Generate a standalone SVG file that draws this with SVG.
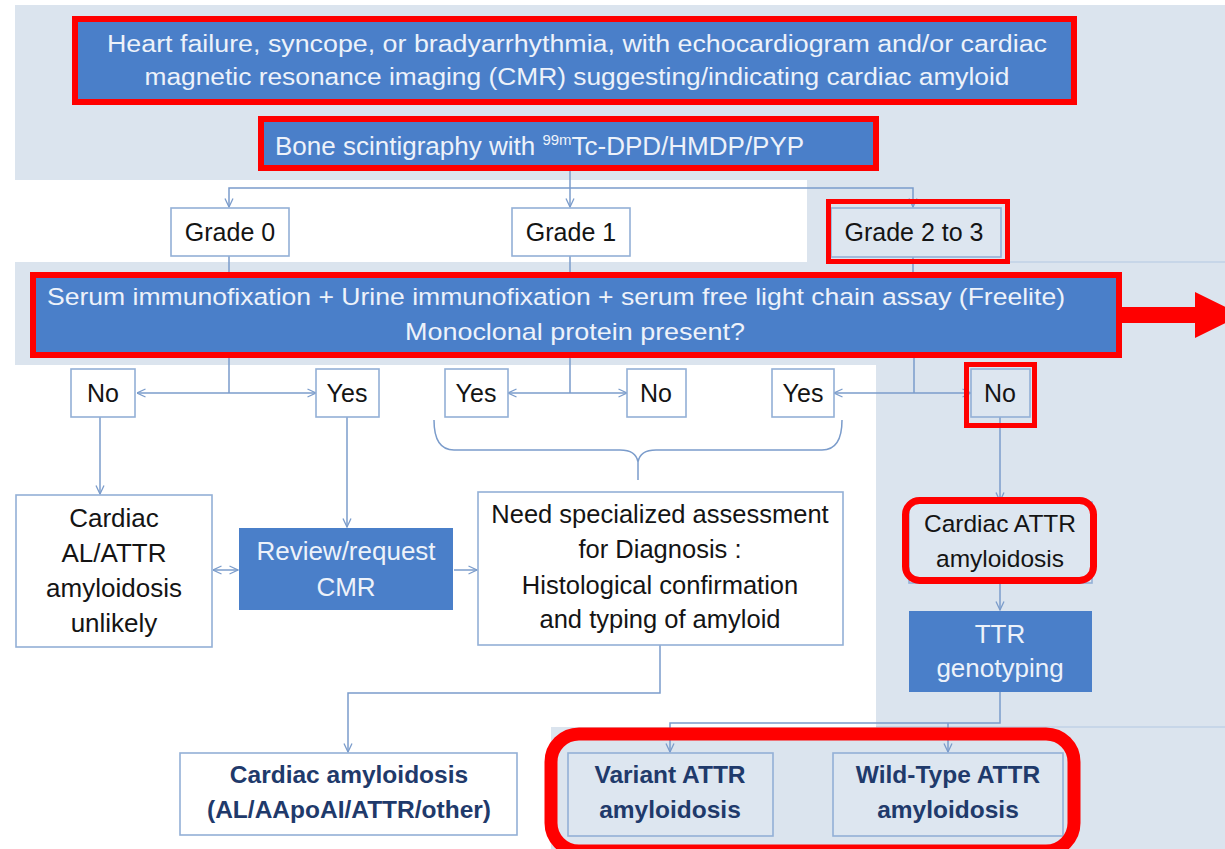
<svg xmlns="http://www.w3.org/2000/svg" width="1225" height="849" viewBox="0 0 1225 849">
<style>
.bg{fill:#dbe4ee}
.blue{fill:#4a7fc9}
.hl{fill:none;stroke:#ff0000}
.wbox{fill:#ffffff;stroke:#93b0d6;stroke-width:1.6}
.lbox{fill:#dde6f0;stroke:#93b0d6;stroke-width:1.6}
.t{font-family:"Liberation Sans",Arial,sans-serif;fill:#141414;text-anchor:middle}
.s{text-anchor:start}
.w{fill:#edf2fa}
.b{font-weight:bold;fill:#1f3a6b}
.c{fill:none;stroke:#7b9ccb;stroke-width:1.5}
</style>
<defs>
<marker id="ah" viewBox="0 0 10 10" refX="9.5" refY="5" markerWidth="10" markerHeight="10" markerUnits="userSpaceOnUse" orient="auto-start-reverse">
<path d="M1,1 L9.5,5 L1,9" fill="none" stroke="#7b9ccb" stroke-width="1.3"/>
</marker>
</defs>
<rect width="1225" height="849" fill="#ffffff"/>
<g id="background">
<rect class="bg" x="15" y="5" width="1210" height="175"/>
<rect class="bg" x="807" y="180" width="418" height="82"/>
<rect class="bg" x="15" y="262" width="1210" height="103"/>
<rect class="bg" x="876" y="365" width="349" height="362"/>
<rect class="bg" x="551" y="727" width="674" height="122"/>
<path d="M1010,262 H1225 M876,727 H1225" stroke="#b3c8e2" stroke-width="1" fill="none"/>
</g>
<g id="connectors">
<path class="c" d="M570,171 V207" marker-end="url(#ah)"/>
<path class="c" d="M229,207 V188 H913 V207" marker-start="url(#ah)" marker-end="url(#ah)"/>
<path class="c" d="M229,256 V275 M570,256 V275 M913,257 V275"/>
<path class="c" d="M229,355 V393 M570,355 V393 M914,358 V393"/>
<path class="c" d="M137,393 H316" marker-start="url(#ah)" marker-end="url(#ah)"/>
<path class="c" d="M508,393 H627" marker-start="url(#ah)" marker-end="url(#ah)"/>
<path class="c" d="M834,393 H971" marker-start="url(#ah)" marker-end="url(#ah)"/>
<path class="c" d="M100,417 V494" marker-end="url(#ah)"/>
<path class="c" d="M347,417 V527" marker-end="url(#ah)"/>
<path class="c" d="M213,570 H238" marker-start="url(#ah)" marker-end="url(#ah)"/>
<path class="c" d="M454,570 H477" marker-end="url(#ah)"/>
<path class="c" d="M434,420 Q434,450 454,450 L620,450 Q636,450 638,462 Q640,450 656,450 L822,450 Q842,450 842,420 M638,462 V480"/>
<path class="c" d="M660,645 V693 H348 V752" marker-end="url(#ah)"/>
<path class="c" d="M1000,417 V501" marker-end="url(#ah)"/>
<path class="c" d="M1000,584 V610" marker-end="url(#ah)"/>
<path class="c" d="M1000,692 V723 H670 V752" marker-end="url(#ah)"/>
<path class="c" d="M948,723 V752" marker-end="url(#ah)"/>
</g>
<g id="n-top">
<rect class="blue" x="75" y="19" width="999" height="83"/>
<rect class="hl" x="75" y="19" width="999" height="83" stroke-width="6"/>
<text class="t w" x="577" y="52" font-size="23" textLength="940" lengthAdjust="spacingAndGlyphs">Heart failure, syncope, or bradyarrhythmia, with echocardiogram and/or cardiac</text>
<text class="t w" x="577" y="85" font-size="23" textLength="865" lengthAdjust="spacingAndGlyphs">magnetic resonance imaging (CMR) suggesting/indicating cardiac amyloid</text>
</g>
<g id="n-bone">
<rect class="blue" x="261" y="119" width="615" height="49"/>
<rect class="hl" x="261" y="119" width="615" height="49" stroke-width="6"/>
<text class="t w s" x="275" y="155" font-size="26">Bone scintigraphy with <tspan font-size="15" dy="-10">99m</tspan><tspan dy="10">Tc-DPD/HMDP/PYP</tspan></text>
</g>
<g id="n-grade0">
<rect class="wbox" x="171" y="208" width="118" height="48"/>
<text class="t" x="230" y="241" font-size="25">Grade 0</text>
</g>
<g id="n-grade1">
<rect class="wbox" x="512" y="208" width="118" height="48"/>
<text class="t" x="571" y="241" font-size="25">Grade 1</text>
</g>
<g id="n-grade23">
<rect class="lbox" x="831" y="208" width="170" height="49"/>
<rect class="hl" x="828.5" y="201.5" width="179" height="60" stroke-width="5"/>
<text class="t" x="914" y="241" font-size="25">Grade 2 to 3</text>
</g>
<g id="n-serum">
<rect class="blue" x="33" y="275" width="1086" height="80"/>
<rect class="hl" x="33" y="275" width="1086" height="80" stroke-width="6"/>
<text class="t w" x="556" y="305" font-size="24" textLength="1018" lengthAdjust="spacingAndGlyphs">Serum immunofixation + Urine immunofixation + serum free light chain assay (Freelite)</text>
<text class="t w" x="575" y="340" font-size="24" textLength="340" lengthAdjust="spacingAndGlyphs">Monoclonal protein present?</text>
</g>
<g id="n-redarrow">
<polygon points="1120,307 1195,307 1195,292 1242,315 1195,338 1195,323 1120,323" fill="#ff0000"/>
</g>
<g id="n-no1">
<rect class="wbox" x="71" y="369" width="64" height="48"/>
<text class="t" x="103" y="402" font-size="25">No</text>
</g>
<g id="n-yes1">
<rect class="wbox" x="316" y="369" width="63" height="48"/>
<text class="t" x="347" y="402" font-size="25">Yes</text>
</g>
<g id="n-yes2">
<rect class="wbox" x="445" y="369" width="63" height="48"/>
<text class="t" x="476" y="402" font-size="25">Yes</text>
</g>
<g id="n-no2">
<rect class="wbox" x="627" y="369" width="59" height="48"/>
<text class="t" x="656" y="402" font-size="25">No</text>
</g>
<g id="n-yes3">
<rect class="wbox" x="772" y="369" width="62" height="48"/>
<text class="t" x="803" y="402" font-size="25">Yes</text>
</g>
<g id="n-no3">
<rect class="lbox" x="971" y="369" width="59" height="48"/>
<rect class="hl" x="966.5" y="364.5" width="68" height="61" stroke-width="5"/>
<text class="t" x="1000" y="402" font-size="25">No</text>
</g>
<g id="n-unlikely">
<rect class="wbox" x="16" y="495" width="196" height="152"/>
<text class="t" x="114" y="527" font-size="26">Cardiac</text>
<text class="t" x="114" y="562" font-size="26">AL/ATTR</text>
<text class="t" x="114" y="597" font-size="26">amyloidosis</text>
<text class="t" x="114" y="632" font-size="26">unlikely</text>
</g>
<g id="n-review">
<rect class="blue" x="239" y="528" width="214" height="82" fill="#4f86d0"/>
<text class="t w" x="346" y="560" font-size="26">Review/request</text>
<text class="t w" x="346" y="596" font-size="26">CMR</text>
</g>
<g id="n-need">
<rect class="wbox" x="478" y="492" width="365" height="153"/>
<text class="t" x="660" y="523" font-size="25.5">Need specialized assessment</text>
<text class="t" x="660" y="558" font-size="25.5">for Diagnosis :</text>
<text class="t" x="660" y="594" font-size="25.5">Histological confirmation</text>
<text class="t" x="660" y="628" font-size="25.5">and typing of amyloid</text>
</g>
<g id="n-cardiac-amyloidosis">
<rect class="wbox" x="180" y="753" width="337" height="82"/>
<text class="t b" x="349" y="783" font-size="24.5">Cardiac amyloidosis</text>
<text class="t b" x="349" y="818" font-size="24.5">(AL/AApoAI/ATTR/other)</text>
</g>
<g id="n-cardiac-attr">
<rect class="lbox" x="909" y="502" width="183" height="81"/>
<rect class="hl" x="905.5" y="500.5" width="188" height="80" rx="14" stroke-width="7"/>
<text class="t" x="1000" y="532" font-size="24.5">Cardiac ATTR</text>
<text class="t" x="1000" y="567" font-size="24.5">amyloidosis</text>
</g>
<g id="n-ttr">
<rect class="blue" x="909" y="611" width="183" height="81"/>
<text class="t w" x="1000" y="643" font-size="26">TTR</text>
<text class="t w" x="1000" y="677" font-size="26">genotyping</text>
</g>
<g id="n-variant">
<rect class="lbox" x="568" y="753" width="205" height="83"/>
<text class="t b" x="670" y="783" font-size="24.5">Variant ATTR</text>
<text class="t b" x="670" y="818" font-size="24.5">amyloidosis</text>
</g>
<g id="n-wild">
<rect class="lbox" x="833" y="753" width="230" height="83"/>
<text class="t b" x="948" y="783" font-size="24.5">Wild-Type ATTR</text>
<text class="t b" x="948" y="818" font-size="24.5">amyloidosis</text>
</g>
<g id="n-highlight-bottom">
<rect class="hl" x="551" y="734" width="523" height="117" rx="28" stroke-width="13"/>
</g>
</svg>
